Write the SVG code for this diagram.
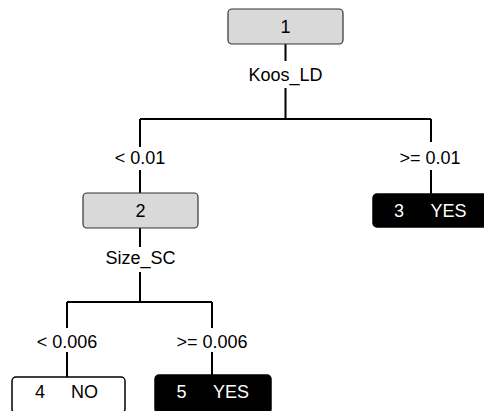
<svg xmlns="http://www.w3.org/2000/svg" width="484" height="411" viewBox="0 0 484 411">
<style>
  .t { font-family: "Liberation Sans", Arial, sans-serif; font-size: 18px; text-anchor: middle; fill: #000; }
  .tw { font-family: "Liberation Sans", Arial, sans-serif; font-size: 18px; text-anchor: middle; fill: #fff; }
  .inner { fill: #d9d9d9; stroke: #333; stroke-width: 1.2; }
  .leafw { fill: #fff; stroke: #000; stroke-width: 1.5; }
  .leafb { fill: #000; stroke: #000; stroke-width: 1.5; }
  .e { stroke: #000; stroke-width: 2; fill: none; }
</style>
<rect width="484" height="411" fill="#fff"/>
<g id="connectors">
  <path class="e" d="M285.5,44 V61 M285.5,88 V119 M140,119 H431 M140,119 V147 M140,170 V193 M431,119 V142 M431,170 V194 M140,228 V247 M140,272 V302 M67,302 H212 M67,302 V328 M67,352 V377 M212,302 V328 M212,352 V375"/>
  <text class="t" x="285.5" y="81">Koos_LD</text>
  <text class="t" x="140" y="164">&lt; 0.01</text>
  <text class="t" x="430" y="164">&gt;= 0.01</text>
  <text class="t" x="140.5" y="264">Size_SC</text>
  <text class="t" x="67" y="348">&lt; 0.006</text>
  <text class="t" x="212" y="348">&gt;= 0.006</text>
</g>
<g id="node1">
  <rect class="inner" x="228" y="9" width="115" height="35" rx="4"/>
  <text class="t" x="285.5" y="33">1</text>
</g>
<g id="node2">
  <rect class="inner" x="83" y="193" width="115" height="35" rx="4"/>
  <text class="t" x="140.5" y="217">2</text>
</g>
<g id="node3">
  <rect class="leafb" x="373" y="194" width="116" height="33" rx="4"/>
  <text class="tw" x="399" y="217">3</text>
  <text class="tw" x="448.5" y="217">YES</text>
</g>
<g id="node4">
  <rect class="leafw" x="12" y="377" width="113" height="36" rx="4"/>
  <text class="t" x="40" y="398">4</text>
  <text class="t" x="84.5" y="398">NO</text>
</g>
<g id="node5">
  <rect class="leafb" x="155" y="375" width="116" height="38" rx="4"/>
  <text class="tw" x="181.5" y="398">5</text>
  <text class="tw" x="231" y="398">YES</text>
</g>
</svg>
